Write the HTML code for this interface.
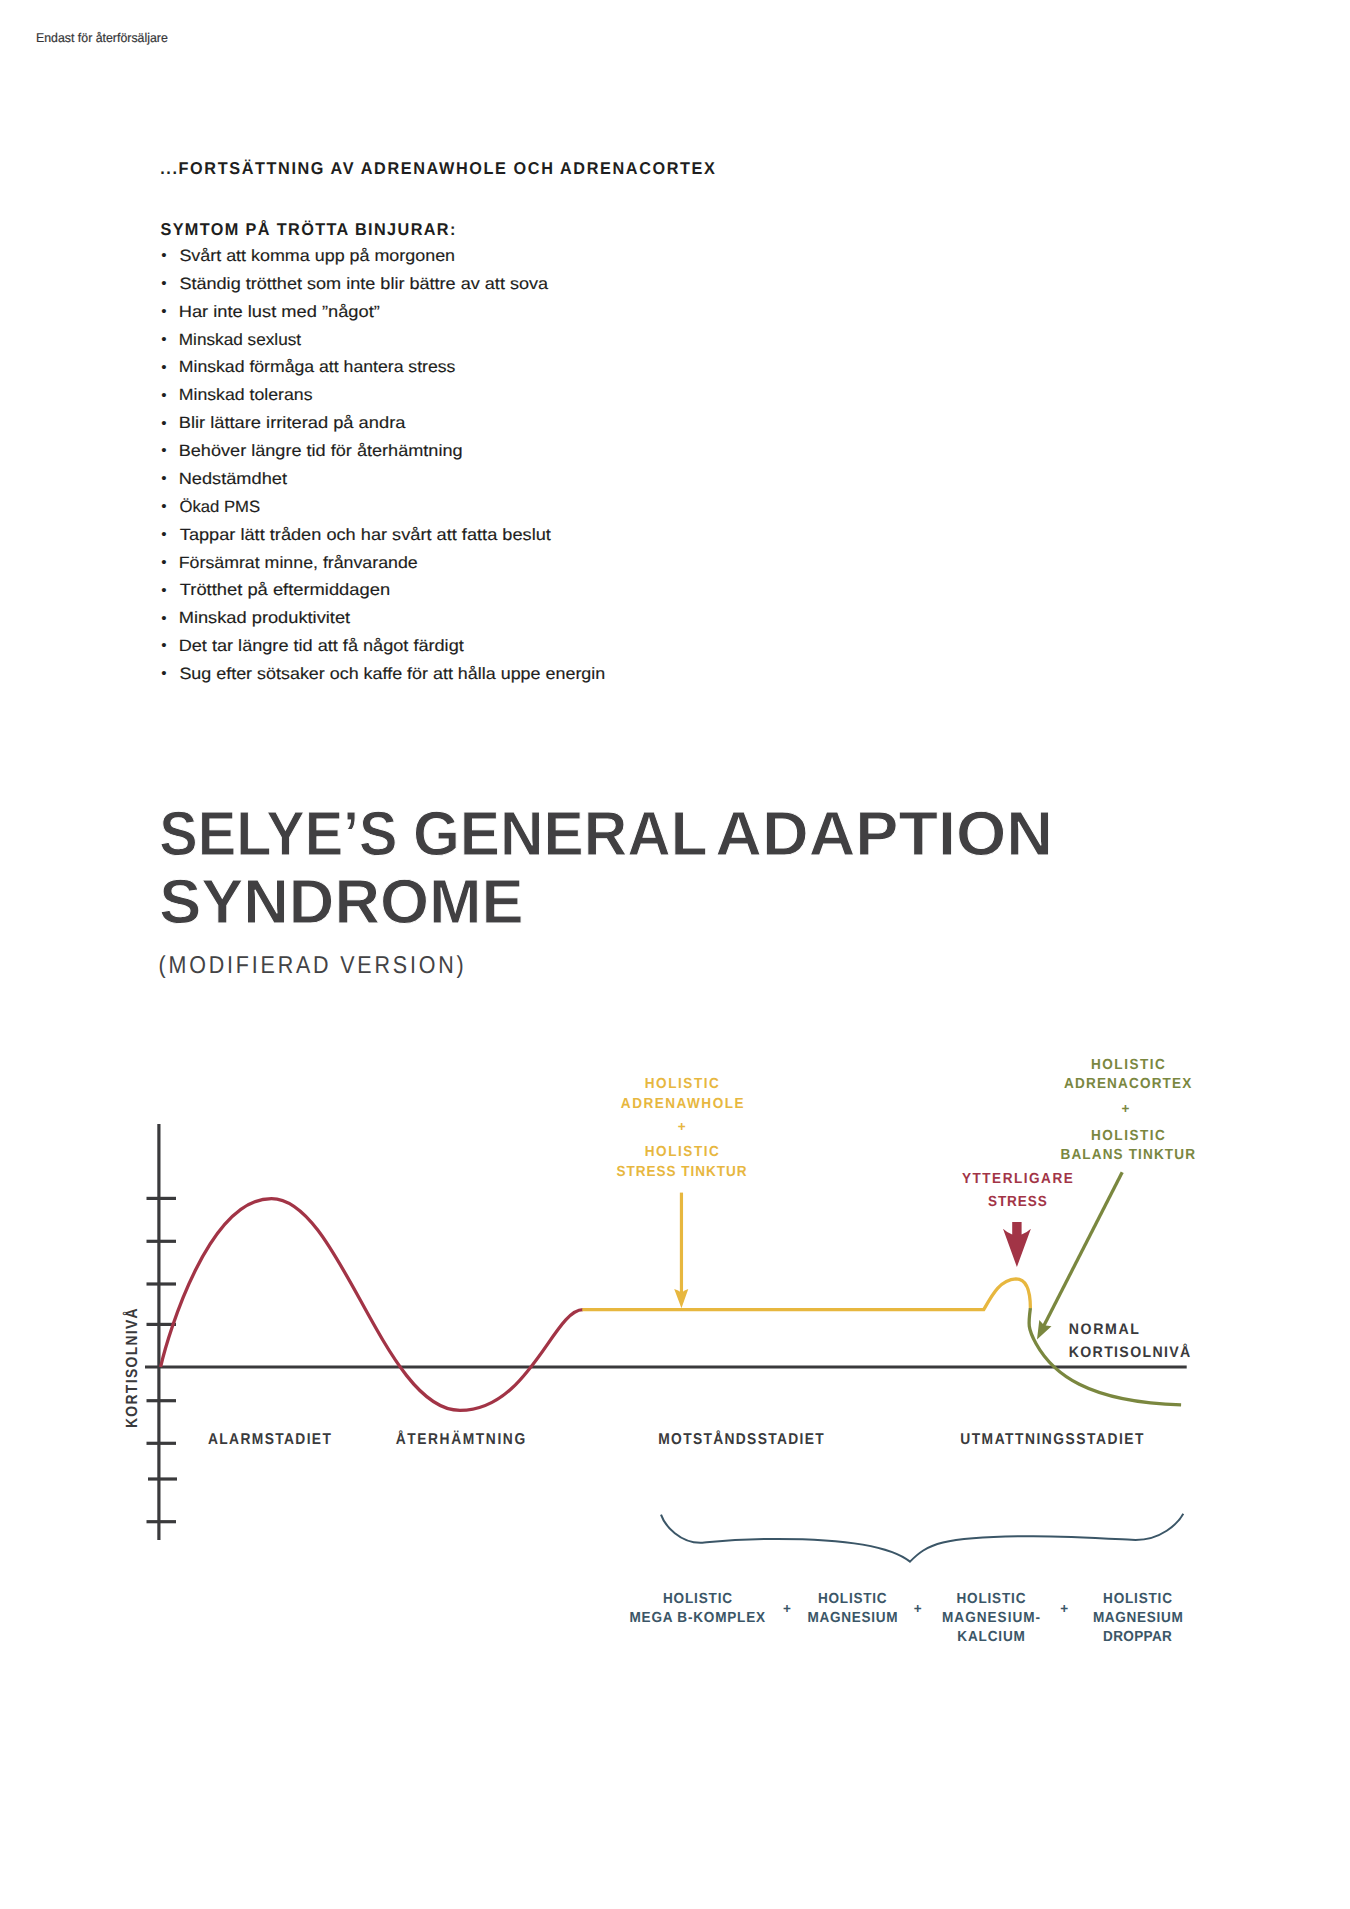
<!DOCTYPE html>
<html lang="sv"><head><meta charset="utf-8"><title>Selye’s General Adaption Syndrome</title>
<style>
html,body{margin:0;padding:0;background:#fff;}
body{width:1350px;height:1909px;overflow:hidden;font-family:"Liberation Sans", sans-serif;}
svg{display:block;}
svg text{font-family:"Liberation Sans", sans-serif;white-space:pre;text-rendering:geometricPrecision;}
</style></head><body>
<svg width="1350" height="1909" viewBox="0 0 1350 1909">
<rect width="1350" height="1909" fill="#fff"/>

<g fill="none" stroke-linecap="butt">
<!-- axes -->
<g stroke="#3a3a3c" stroke-width="3.2">
<line x1="158.9" y1="1124" x2="158.9" y2="1540"/>
<line x1="145" y1="1367" x2="1186.7" y2="1367"/>
<line x1="146.5" y1="1198.4" x2="176" y2="1198.4"/>
<line x1="146.5" y1="1241.3" x2="176" y2="1241.3"/>
<line x1="146.5" y1="1284" x2="176" y2="1284"/>
<line x1="146.5" y1="1324.4" x2="176" y2="1324.4"/>
<line x1="146.5" y1="1400.7" x2="176" y2="1400.7"/>
<line x1="146.5" y1="1443.3" x2="176" y2="1443.3"/>
<line x1="148" y1="1479" x2="177" y2="1479"/>
<line x1="146.5" y1="1521.7" x2="176" y2="1521.7"/>
</g>
<!-- red curve -->
<path d="M160.6 1367 C168.3 1333.6 208.7 1198.6 271.5 1198.6 C339.6 1198.6 383.8 1410.4 460 1410.4 C528.9 1410.4 553.7 1309.7 582.9 1309.7" stroke="#a23446" stroke-width="3.3"/>
<!-- yellow -->
<path d="M582.3 1309.7 H983.7 C992.5 1294.3 1000.2 1279.7 1015.9 1278.9 C1027.9 1278.9 1030.4 1295.6 1030.4 1308.4" stroke="#e7b73f" stroke-width="3.3" stroke-linejoin="miter"/>
<line x1="681.45" y1="1192.6" x2="681.45" y2="1295" stroke="#e7b73f" stroke-width="3.2"/>
<path d="M681.45 1308.2 L674.2 1289 Q678.5 1290.3 681.45 1292.8 Q684.5 1290.3 688.3 1289 Z" fill="#e7b73f" stroke="none"/>
<!-- green -->
<path d="M1030.4 1308.1 C1028.3 1323.9 1027.6 1328.4 1036.1 1343.7 C1052.4 1373.0 1086.6 1402.1 1181.1 1404.9" stroke="#7a873f" stroke-width="3.3"/>
<line x1="1122.2" y1="1172.2" x2="1042.3" y2="1328.8" stroke="#7a873f" stroke-width="3.3"/>
<path d="M1037 1339.6 L1039.3 1320 L1044.1 1325.2 L1051.5 1326.3 Z" fill="#7a873f" stroke="none"/>
<!-- red arrow -->
<path d="M1012.2 1222 H1021.6 V1234.4 Q1027 1232.6 1030.9 1228.8 L1016.9 1266.9 L1003 1228.8 Q1007 1232.6 1012.2 1234.4 Z" fill="#a23446" stroke="none"/>
<!-- brace -->
<path d="M661 1514.7 C665.1 1526.6 680.6 1542.8 700.4 1542.8 C704.5 1542.8 730.7 1538.9 777.8 1538.9 C821.7 1538.9 885.5 1542 910 1561.6 C926.9 1544.7 939.9 1536.2 1033.3 1536.2 C1076.9 1536.2 1130 1540 1135.6 1540 C1160.6 1540 1177.7 1524 1183.3 1513.7" stroke="#3b5667" stroke-width="2" stroke-linejoin="miter"/>
</g>

<text x="0.00" y="0" transform="translate(35.99 42.20) scale(0.9731 1)" stroke="#363638" stroke-width="0.2" font-size="12.7" font-weight="400" fill="#363638">Endast för återförsäljare</text>
<text x="0.00" y="0" transform="translate(160.20 173.90) scale(0.9500 1)" style="letter-spacing:1.696px" font-size="17.1" font-weight="700" fill="#1e1e20">...FORTSÄTTNING AV ADRENAWHOLE OCH ADRENACORTEX</text>
<text x="0.00" y="0" transform="translate(160.43 235.20) scale(0.9500 1)" style="letter-spacing:1.453px" font-size="17.1" font-weight="700" fill="#1e1e20">SYMTOM PÅ TRÖTTA BINJURAR:</text>
<text x="0.00" y="0" transform="translate(179.39 261.00) scale(1.0924 1)" stroke="#1e1e20" stroke-width="0.15" font-size="16.4" font-weight="400" fill="#1e1e20">Svårt att komma upp på morgonen</text>
<text x="0.00" y="0" transform="translate(161.15 260.30) scale(1.0025 1)" font-size="15.1" font-weight="400" fill="#1e1e20">•</text>
<text x="0.00" y="0" transform="translate(179.38 288.87) scale(1.1028 1)" stroke="#1e1e20" stroke-width="0.15" font-size="16.4" font-weight="400" fill="#1e1e20">Ständig trötthet som inte blir bättre av att sova</text>
<text x="0.00" y="0" transform="translate(161.15 288.17) scale(1.0025 1)" font-size="15.1" font-weight="400" fill="#1e1e20">•</text>
<text x="0.00" y="0" transform="translate(178.70 316.74) scale(1.1153 1)" stroke="#1e1e20" stroke-width="0.15" font-size="16.4" font-weight="400" fill="#1e1e20">Har inte lust med ”något”</text>
<text x="0.00" y="0" transform="translate(161.15 316.04) scale(1.0025 1)" font-size="15.1" font-weight="400" fill="#1e1e20">•</text>
<text x="0.00" y="0" transform="translate(178.79 344.61) scale(1.0492 1)" stroke="#1e1e20" stroke-width="0.15" font-size="16.4" font-weight="400" fill="#1e1e20">Minskad sexlust</text>
<text x="0.00" y="0" transform="translate(161.15 343.91) scale(1.0025 1)" font-size="15.1" font-weight="400" fill="#1e1e20">•</text>
<text x="0.00" y="0" transform="translate(178.75 372.48) scale(1.0770 1)" stroke="#1e1e20" stroke-width="0.15" font-size="16.4" font-weight="400" fill="#1e1e20">Minskad förmåga att hantera stress</text>
<text x="0.00" y="0" transform="translate(161.15 371.78) scale(1.0025 1)" font-size="15.1" font-weight="400" fill="#1e1e20">•</text>
<text x="0.00" y="0" transform="translate(178.75 400.35) scale(1.0799 1)" stroke="#1e1e20" stroke-width="0.15" font-size="16.4" font-weight="400" fill="#1e1e20">Minskad tolerans</text>
<text x="0.00" y="0" transform="translate(161.15 399.65) scale(1.0025 1)" font-size="15.1" font-weight="400" fill="#1e1e20">•</text>
<text x="0.00" y="0" transform="translate(178.70 428.22) scale(1.1159 1)" stroke="#1e1e20" stroke-width="0.15" font-size="16.4" font-weight="400" fill="#1e1e20">Blir lättare irriterad på andra</text>
<text x="0.00" y="0" transform="translate(161.15 427.52) scale(1.0025 1)" font-size="15.1" font-weight="400" fill="#1e1e20">•</text>
<text x="0.00" y="0" transform="translate(178.71 456.09) scale(1.1048 1)" stroke="#1e1e20" stroke-width="0.15" font-size="16.4" font-weight="400" fill="#1e1e20">Behöver längre tid för återhämtning</text>
<text x="0.00" y="0" transform="translate(161.15 455.39) scale(1.0025 1)" font-size="15.1" font-weight="400" fill="#1e1e20">•</text>
<text x="0.00" y="0" transform="translate(178.71 483.96) scale(1.1102 1)" stroke="#1e1e20" stroke-width="0.15" font-size="16.4" font-weight="400" fill="#1e1e20">Nedstämdhet</text>
<text x="0.00" y="0" transform="translate(161.15 483.26) scale(1.0025 1)" font-size="15.1" font-weight="400" fill="#1e1e20">•</text>
<text x="0.00" y="0" transform="translate(179.41 511.83) scale(1.0178 1)" stroke="#1e1e20" stroke-width="0.15" font-size="16.4" font-weight="400" fill="#1e1e20">Ökad PMS</text>
<text x="0.00" y="0" transform="translate(161.15 511.13) scale(1.0025 1)" font-size="15.1" font-weight="400" fill="#1e1e20">•</text>
<text x="0.00" y="0" transform="translate(179.79 539.70) scale(1.1097 1)" stroke="#1e1e20" stroke-width="0.15" font-size="16.4" font-weight="400" fill="#1e1e20">Tappar lätt tråden och har svårt att fatta beslut</text>
<text x="0.00" y="0" transform="translate(161.15 539.00) scale(1.0025 1)" font-size="15.1" font-weight="400" fill="#1e1e20">•</text>
<text x="0.00" y="0" transform="translate(178.74 567.57) scale(1.0839 1)" stroke="#1e1e20" stroke-width="0.15" font-size="16.4" font-weight="400" fill="#1e1e20">Försämrat minne, frånvarande</text>
<text x="0.00" y="0" transform="translate(161.15 566.87) scale(1.0025 1)" font-size="15.1" font-weight="400" fill="#1e1e20">•</text>
<text x="0.00" y="0" transform="translate(179.79 595.44) scale(1.1187 1)" stroke="#1e1e20" stroke-width="0.15" font-size="16.4" font-weight="400" fill="#1e1e20">Trötthet på eftermiddagen</text>
<text x="0.00" y="0" transform="translate(161.15 594.74) scale(1.0025 1)" font-size="15.1" font-weight="400" fill="#1e1e20">•</text>
<text x="0.00" y="0" transform="translate(178.70 623.31) scale(1.1135 1)" stroke="#1e1e20" stroke-width="0.15" font-size="16.4" font-weight="400" fill="#1e1e20">Minskad produktivitet</text>
<text x="0.00" y="0" transform="translate(161.15 622.61) scale(1.0025 1)" font-size="15.1" font-weight="400" fill="#1e1e20">•</text>
<text x="0.00" y="0" transform="translate(178.71 651.18) scale(1.1054 1)" stroke="#1e1e20" stroke-width="0.15" font-size="16.4" font-weight="400" fill="#1e1e20">Det tar längre tid att få något färdigt</text>
<text x="0.00" y="0" transform="translate(161.15 650.48) scale(1.0025 1)" font-size="15.1" font-weight="400" fill="#1e1e20">•</text>
<text x="0.00" y="0" transform="translate(179.39 679.05) scale(1.0929 1)" stroke="#1e1e20" stroke-width="0.15" font-size="16.4" font-weight="400" fill="#1e1e20">Sug efter sötsaker och kaffe för att hålla uppe energin</text>
<text x="0.00" y="0" transform="translate(161.15 678.35) scale(1.0025 1)" font-size="15.1" font-weight="400" fill="#1e1e20">•</text>
<text x="0.00" y="0" transform="translate(159.34 854.90) scale(0.9211 1)" stroke="#fff" stroke-width="1.0" font-size="62.6" font-weight="700" fill="#414042">SELYE’S</text>
<text x="0.00" y="0" transform="translate(412.93 854.90) scale(0.9627 1)" stroke="#fff" stroke-width="1.0" font-size="62.6" font-weight="700" fill="#414042">GENERAL</text>
<text x="0.00" y="0" transform="translate(715.29 854.90) scale(1.0330 1)" stroke="#fff" stroke-width="1.0" font-size="62.6" font-weight="700" fill="#414042">ADAPTION</text>
<text x="0.00" y="0" transform="translate(159.18 923.40) scale(1.0077 1)" stroke="#fff" stroke-width="1.0" font-size="62.6" font-weight="700" fill="#414042">SYNDROME</text>
<text x="0.00" y="0" transform="translate(158.57 973.40) scale(0.8800 1)" style="letter-spacing:3.197px" font-size="24.4" font-weight="400" fill="#434345">(MODIFIERAD VERSION)</text>
<text x="0.00" y="0" transform="translate(644.69 1088.20) scale(0.9300 1)" style="letter-spacing:1.666px" font-size="14.6" font-weight="700" fill="#e7b73f">HOLISTIC</text>
<text x="0.00" y="0" transform="translate(620.86 1107.80) scale(0.9300 1)" style="letter-spacing:1.596px" font-size="14.6" font-weight="700" fill="#e7b73f">ADRENAWHOLE</text>
<text x="0.00" y="0" transform="translate(677.73 1131.09)" font-size="13.5" font-weight="700" fill="#e7b73f">+</text>
<text x="0.00" y="0" transform="translate(644.69 1156.20) scale(0.9300 1)" style="letter-spacing:1.666px" font-size="14.6" font-weight="700" fill="#e7b73f">HOLISTIC</text>
<text x="0.00" y="0" transform="translate(616.61 1175.60) scale(0.9300 1)" style="letter-spacing:1.012px" font-size="14.6" font-weight="700" fill="#e7b73f">STRESS TINKTUR</text>
<text x="0.00" y="0" transform="translate(1090.99 1068.90) scale(0.9300 1)" style="letter-spacing:1.620px" font-size="14.6" font-weight="700" fill="#7a873f">HOLISTIC</text>
<text x="0.00" y="0" transform="translate(1064.06 1088.40) scale(0.9300 1)" style="letter-spacing:1.236px" font-size="14.6" font-weight="700" fill="#7a873f">ADRENACORTEX</text>
<text x="0.00" y="0" transform="translate(1121.43 1113.39)" font-size="13.5" font-weight="700" fill="#7a873f">+</text>
<text x="0.00" y="0" transform="translate(1090.99 1139.70) scale(0.9300 1)" style="letter-spacing:1.620px" font-size="14.6" font-weight="700" fill="#7a873f">HOLISTIC</text>
<text x="0.00" y="0" transform="translate(1060.49 1159.30) scale(0.9300 1)" style="letter-spacing:1.208px" font-size="14.6" font-weight="700" fill="#7a873f">BALANS TINKTUR</text>
<text x="0.00" y="0" transform="translate(961.97 1183.30) scale(0.9300 1)" style="letter-spacing:1.613px" font-size="14.6" font-weight="700" fill="#a23446">YTTERLIGARE</text>
<text x="0.00" y="0" transform="translate(988.01 1205.50) scale(0.9300 1)" style="letter-spacing:0.950px" font-size="14.6" font-weight="700" fill="#a23446">STRESS</text>
<text x="0.00" y="0" transform="translate(1068.75 1334.10) scale(0.9300 1)" style="letter-spacing:1.742px" font-size="15.2" font-weight="700" fill="#3a3a3c">NORMAL</text>
<text x="0.00" y="0" transform="translate(1068.75 1356.80) scale(0.9300 1)" style="letter-spacing:1.437px" font-size="15.2" font-weight="700" fill="#3a3a3c">KORTISOLNIVÅ</text>
<text x="0.00" y="0" transform="translate(207.96 1444.20) scale(0.8800 1)" style="letter-spacing:1.552px" font-size="15.7" font-weight="700" fill="#3a3a3c">ALARMSTADIET</text>
<text x="0.00" y="0" transform="translate(395.66 1444.20) scale(0.8800 1)" style="letter-spacing:1.812px" font-size="15.7" font-weight="700" fill="#3a3a3c">ÅTERHÄMTNING</text>
<text x="0.00" y="0" transform="translate(658.28 1444.20) scale(0.8800 1)" style="letter-spacing:1.509px" font-size="15.7" font-weight="700" fill="#3a3a3c">MOTSTÅNDSSTADIET</text>
<text x="0.00" y="0" transform="translate(960.17 1444.20) scale(0.8800 1)" style="letter-spacing:1.726px" font-size="15.7" font-weight="700" fill="#3a3a3c">UTMATTNINGSSTADIET</text>
<text x="-1.08" y="0" transform="translate(137.4 1427.1) rotate(-90) scale(0.8600 1)" style="letter-spacing:1.534px" font-size="16.2" font-weight="700" fill="#3a3a3c">KORTISOLNIVÅ</text>
<text x="0.00" y="0" transform="translate(662.89 1603.30) scale(0.9300 1)" style="letter-spacing:0.913px" font-size="14.6" font-weight="700" fill="#3b5667">HOLISTIC</text>
<text x="0.00" y="0" transform="translate(629.49 1622.20) scale(0.9300 1)" style="letter-spacing:0.836px" font-size="14.6" font-weight="700" fill="#3b5667">MEGA B-KOMPLEX</text>
<text x="0.00" y="0" transform="translate(782.93 1612.69)" font-size="13.5" font-weight="700" fill="#3b5667">+</text>
<text x="0.00" y="0" transform="translate(817.99 1603.30) scale(0.9300 1)" style="letter-spacing:0.806px" font-size="14.6" font-weight="700" fill="#3b5667">HOLISTIC</text>
<text x="0.00" y="0" transform="translate(807.49 1622.20) scale(0.9300 1)" style="letter-spacing:0.762px" font-size="14.6" font-weight="700" fill="#3b5667">MAGNESIUM</text>
<text x="0.00" y="0" transform="translate(913.63 1612.69)" font-size="13.5" font-weight="700" fill="#3b5667">+</text>
<text x="0.00" y="0" transform="translate(956.39 1603.30) scale(0.9300 1)" style="letter-spacing:0.882px" font-size="14.6" font-weight="700" fill="#3b5667">HOLISTIC</text>
<text x="0.00" y="0" transform="translate(941.99 1622.20) scale(0.9300 1)" style="letter-spacing:1.097px" font-size="14.6" font-weight="700" fill="#3b5667">MAGNESIUM-</text>
<text x="0.00" y="0" transform="translate(957.29 1640.70) scale(0.9300 1)" style="letter-spacing:0.904px" font-size="14.6" font-weight="700" fill="#3b5667">KALCIUM</text>
<text x="0.00" y="0" transform="translate(1060.23 1612.69)" font-size="13.5" font-weight="700" fill="#3b5667">+</text>
<text x="0.00" y="0" transform="translate(1103.09 1603.30) scale(0.9300 1)" style="letter-spacing:0.852px" font-size="14.6" font-weight="700" fill="#3b5667">HOLISTIC</text>
<text x="0.00" y="0" transform="translate(1092.89 1622.20) scale(0.9300 1)" style="letter-spacing:0.722px" font-size="14.6" font-weight="700" fill="#3b5667">MAGNESIUM</text>
<text x="0.00" y="0" transform="translate(1103.09 1640.70) scale(0.9300 1)" style="letter-spacing:0.345px" font-size="14.6" font-weight="700" fill="#3b5667">DROPPAR</text>
</svg>
</body></html>
